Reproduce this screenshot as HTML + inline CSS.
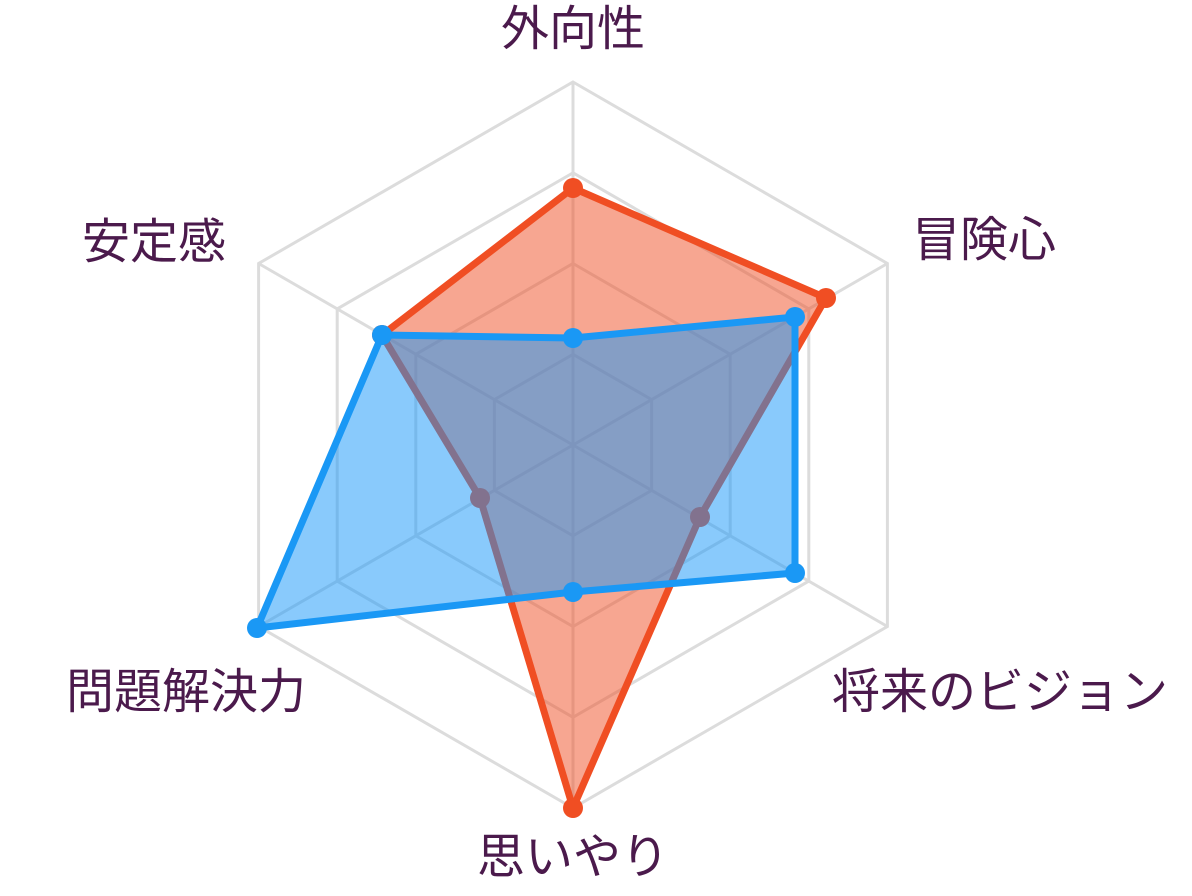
<!DOCTYPE html>
<html><head><meta charset="utf-8"><style>
html,body{margin:0;padding:0;background:#fff;}
svg text{font-family:"Liberation Sans","Noto Sans CJK JP",sans-serif;font-size:48px;fill:#4b1a4c;}
</style></head><body>
<svg width="1192" height="891" viewBox="0 0 1192 891" xmlns="http://www.w3.org/2000/svg">
<g fill="none" stroke="#dcdcdc" stroke-width="3">
<polygon points="573,82 887.4,263.5 887.4,626.5 573,808 258.6,626.5 258.6,263.5"/>
<polygon points="573,172.8 808.8,308.9 808.8,581.1 573,717.3 337.2,581.1 337.2,308.9"/>
<polygon points="573,263.5 730.2,354.3 730.2,535.8 573,626.5 415.8,535.8 415.8,354.3"/>
<polygon points="573,354.3 651.6,399.6 651.6,490.4 573,535.8 494.4,490.4 494.4,399.6"/>
<line x1="573" y1="445" x2="573" y2="82"/>
<line x1="573" y1="445" x2="887.4" y2="263.5"/>
<line x1="573" y1="445" x2="887.4" y2="626.5"/>
<line x1="573" y1="445" x2="573" y2="808"/>
<line x1="573" y1="445" x2="258.6" y2="626.5"/>
<line x1="573" y1="445" x2="258.6" y2="263.5"/>
</g>
<polygon points="573,188 826,298 700,517 573,808 480,498 382,335" fill="rgba(240,78,35,0.5)" stroke="#f04e23" stroke-width="7" stroke-linejoin="round"/>
<g fill="#f04e23">
<circle cx="573" cy="188" r="10"/><circle cx="826" cy="298" r="10"/><circle cx="700" cy="517" r="10"/>
<circle cx="573" cy="808" r="10"/><circle cx="480" cy="498" r="10"/><circle cx="382" cy="335" r="10"/>
</g>
<polygon points="573,338 795,317 795,573 573,592 257,628 382,335" fill="rgba(20,150,250,0.5)" stroke="#1a98f5" stroke-width="7" stroke-linejoin="round"/>
<g fill="#1a98f5">
<circle cx="573" cy="338" r="10"/><circle cx="795" cy="317" r="10"/><circle cx="795" cy="573" r="10"/>
<circle cx="573" cy="592" r="10"/><circle cx="257" cy="628" r="10"/><circle cx="382" cy="335" r="10"/>
</g>
<text x="573" y="45" text-anchor="middle">外向性</text>
<text x="912" y="256">冒険心</text>
<text x="832" y="708">将来のビジョン</text>
<text x="573" y="873" text-anchor="middle">思いやり</text>
<text x="306" y="708" text-anchor="end">問題解決力</text>
<text x="226" y="258" text-anchor="end">安定感</text>
</svg>
</body></html>
